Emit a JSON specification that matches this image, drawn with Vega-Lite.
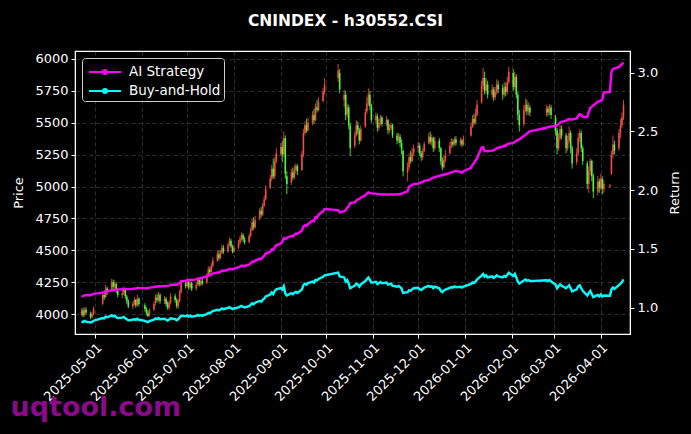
{
"$schema": "https://vega.github.io/schema/vega-lite/v6.json",
"width": 555, "height": 283,
"autosize": {"type": "none"},
"padding": {"left": 75, "top": 51, "right": 61, "bottom": 100},
"background": "#000000",
"title": {"text": "CNINDEX - h30552.CSI", "color": "#ffffff", "fontSize": 15.5, "fontWeight": "bold", "font": "DejaVu Sans", "anchor": "middle", "offset": 22, "dx": -7},
"config": {
 "view": {"stroke": "#ffffff", "strokeWidth": 1.2},
 "font": "DejaVu Sans",
 "axis": {"labelColor": "#ffffff", "titleColor": "#ffffff", "tickColor": "#ffffff", "domainColor": "#ffffff", "labelFont": "DejaVu Sans", "titleFont": "DejaVu Sans", "labelFontSize": 13, "titleFontSize": 13, "titleFontWeight": "normal", "gridColor": "#808080", "gridDash": [4, 3], "gridOpacity": 0.45, "gridWidth": 0.8, "tickSize": 4, "labelPadding": 3}
},
"datasets": {"k": [
{"d":"2025-04-22","o":4000,"h":4045,"l":3985,"c":4020,"ai":1.095,"bh":0.884},
{"d":"2025-04-23","o":4030,"h":4050,"l":3975,"c":3990,"ai":1.098,"bh":0.877},
{"d":"2025-04-24","o":3995,"h":4050,"l":3980,"c":4035,"ai":1.105,"bh":0.887},
{"d":"2025-04-25","o":4035,"h":4055,"l":3995,"c":4010,"ai":1.108,"bh":0.881},
{"d":"2025-04-28","o":4005,"h":4020,"l":3960,"c":3975,"ai":1.105,"bh":0.874},
{"d":"2025-04-29","o":3980,"h":4015,"l":3965,"c":4000,"ai":1.110,"bh":0.879},
{"d":"2025-04-30","o":4000,"h":4060,"l":3990,"c":4045,"ai":1.118,"bh":0.889},
{"d":"2025-05-06","o":4080,"h":4170,"l":4070,"c":4150,"ai":1.128,"bh":0.912},
{"d":"2025-05-07","o":4150,"h":4185,"l":4110,"c":4130,"ai":1.130,"bh":0.908},
{"d":"2025-05-08","o":4135,"h":4230,"l":4125,"c":4200,"ai":1.140,"bh":0.923},
{"d":"2025-05-09","o":4200,"h":4215,"l":4150,"c":4175,"ai":1.138,"bh":0.918},
{"d":"2025-05-12","o":4190,"h":4275,"l":4180,"c":4250,"ai":1.150,"bh":0.934},
{"d":"2025-05-13","o":4250,"h":4270,"l":4195,"c":4215,"ai":1.147,"bh":0.926},
{"d":"2025-05-14","o":4215,"h":4265,"l":4200,"c":4240,"ai":1.152,"bh":0.932},
{"d":"2025-05-15","o":4235,"h":4250,"l":4165,"c":4180,"ai":1.150,"bh":0.919},
{"d":"2025-05-16","o":4180,"h":4200,"l":4130,"c":4150,"ai":1.155,"bh":0.912},
{"d":"2025-05-19","o":4150,"h":4190,"l":4125,"c":4165,"ai":1.158,"bh":0.915},
{"d":"2025-05-20","o":4170,"h":4210,"l":4150,"c":4190,"ai":1.162,"bh":0.921},
{"d":"2025-05-21","o":4190,"h":4200,"l":4120,"c":4140,"ai":1.160,"bh":0.910},
{"d":"2025-05-22","o":4135,"h":4150,"l":4080,"c":4100,"ai":1.158,"bh":0.901},
{"d":"2025-05-23","o":4100,"h":4115,"l":4045,"c":4060,"ai":1.157,"bh":0.892},
{"d":"2025-05-26","o":4060,"h":4100,"l":4040,"c":4080,"ai":1.160,"bh":0.897},
{"d":"2025-05-27","o":4080,"h":4135,"l":4065,"c":4110,"ai":1.163,"bh":0.903},
{"d":"2025-05-28","o":4110,"h":4120,"l":4050,"c":4070,"ai":1.162,"bh":0.895},
{"d":"2025-05-29","o":4075,"h":4150,"l":4060,"c":4120,"ai":1.170,"bh":0.905},
{"d":"2025-05-30","o":4120,"h":4130,"l":4060,"c":4080,"ai":1.168,"bh":0.897},
{"d":"2025-06-03","o":4070,"h":4085,"l":4020,"c":4040,"ai":1.166,"bh":0.888},
{"d":"2025-06-04","o":4040,"h":4055,"l":3990,"c":4010,"ai":1.165,"bh":0.881},
{"d":"2025-06-05","o":4010,"h":4030,"l":3975,"c":3985,"ai":1.165,"bh":0.876},
{"d":"2025-06-06","o":3990,"h":4045,"l":3980,"c":4030,"ai":1.170,"bh":0.886},
{"d":"2025-06-09","o":4035,"h":4100,"l":4025,"c":4080,"ai":1.175,"bh":0.897},
{"d":"2025-06-10","o":4085,"h":4150,"l":4070,"c":4130,"ai":1.180,"bh":0.908},
{"d":"2025-06-11","o":4130,"h":4160,"l":4090,"c":4110,"ai":1.178,"bh":0.903},
{"d":"2025-06-12","o":4110,"h":4175,"l":4095,"c":4150,"ai":1.183,"bh":0.912},
{"d":"2025-06-13","o":4150,"h":4165,"l":4080,"c":4100,"ai":1.182,"bh":0.901},
{"d":"2025-06-16","o":4100,"h":4140,"l":4080,"c":4120,"ai":1.185,"bh":0.905},
{"d":"2025-06-17","o":4120,"h":4135,"l":4060,"c":4080,"ai":1.184,"bh":0.897},
{"d":"2025-06-18","o":4085,"h":4100,"l":4035,"c":4050,"ai":1.183,"bh":0.890},
{"d":"2025-06-19","o":4050,"h":4105,"l":4030,"c":4090,"ai":1.188,"bh":0.899},
{"d":"2025-06-20","o":4090,"h":4165,"l":4075,"c":4140,"ai":1.195,"bh":0.910},
{"d":"2025-06-23","o":4140,"h":4160,"l":4090,"c":4110,"ai":1.196,"bh":0.903},
{"d":"2025-06-24","o":4110,"h":4125,"l":4045,"c":4065,"ai":1.195,"bh":0.893},
{"d":"2025-06-25","o":4060,"h":4120,"l":4040,"c":4100,"ai":1.200,"bh":0.901},
{"d":"2025-06-26","o":4100,"h":4190,"l":4090,"c":4170,"ai":1.210,"bh":0.916},
{"d":"2025-06-27","o":4170,"h":4265,"l":4160,"c":4240,"ai":1.225,"bh":0.932},
{"d":"2025-06-30","o":4240,"h":4270,"l":4200,"c":4220,"ai":1.228,"bh":0.927},
{"d":"2025-07-01","o":4220,"h":4275,"l":4205,"c":4250,"ai":1.235,"bh":0.934},
{"d":"2025-07-02","o":4250,"h":4260,"l":4190,"c":4210,"ai":1.233,"bh":0.925},
{"d":"2025-07-03","o":4210,"h":4265,"l":4195,"c":4240,"ai":1.238,"bh":0.932},
{"d":"2025-07-04","o":4245,"h":4255,"l":4180,"c":4200,"ai":1.236,"bh":0.923},
{"d":"2025-07-07","o":4200,"h":4250,"l":4185,"c":4230,"ai":1.240,"bh":0.930},
{"d":"2025-07-08","o":4230,"h":4290,"l":4220,"c":4270,"ai":1.248,"bh":0.938},
{"d":"2025-07-09","o":4270,"h":4285,"l":4215,"c":4235,"ai":1.246,"bh":0.931},
{"d":"2025-07-10","o":4235,"h":4280,"l":4220,"c":4260,"ai":1.252,"bh":0.936},
{"d":"2025-07-11","o":4260,"h":4285,"l":4225,"c":4240,"ai":1.255,"bh":0.932},
{"d":"2025-07-14","o":4245,"h":4320,"l":4235,"c":4300,"ai":1.265,"bh":0.945},
{"d":"2025-07-15","o":4300,"h":4375,"l":4290,"c":4350,"ai":1.275,"bh":0.956},
{"d":"2025-07-16","o":4350,"h":4370,"l":4310,"c":4330,"ai":1.273,"bh":0.952},
{"d":"2025-07-17","o":4330,"h":4400,"l":4320,"c":4380,"ai":1.283,"bh":0.963},
{"d":"2025-07-18","o":4380,"h":4445,"l":4365,"c":4420,"ai":1.290,"bh":0.971},
{"d":"2025-07-21","o":4420,"h":4495,"l":4410,"c":4470,"ai":1.300,"bh":0.982},
{"d":"2025-07-22","o":4470,"h":4500,"l":4420,"c":4440,"ai":1.298,"bh":0.976},
{"d":"2025-07-23","o":4440,"h":4505,"l":4430,"c":4480,"ai":1.305,"bh":0.985},
{"d":"2025-07-24","o":4480,"h":4545,"l":4470,"c":4520,"ai":1.315,"bh":0.993},
{"d":"2025-07-25","o":4520,"h":4540,"l":4470,"c":4490,"ai":1.312,"bh":0.987},
{"d":"2025-07-28","o":4490,"h":4560,"l":4480,"c":4540,"ai":1.322,"bh":0.998},
{"d":"2025-07-29","o":4540,"h":4600,"l":4530,"c":4575,"ai":1.330,"bh":1.005},
{"d":"2025-07-30","o":4575,"h":4590,"l":4515,"c":4530,"ai":1.328,"bh":0.996},
{"d":"2025-07-31","o":4530,"h":4545,"l":4475,"c":4490,"ai":1.325,"bh":0.987},
{"d":"2025-08-01","o":4490,"h":4540,"l":4480,"c":4520,"ai":1.332,"bh":0.993},
{"d":"2025-08-04","o":4520,"h":4580,"l":4510,"c":4560,"ai":1.342,"bh":1.002},
{"d":"2025-08-05","o":4560,"h":4615,"l":4545,"c":4590,"ai":1.350,"bh":1.009},
{"d":"2025-08-06","o":4590,"h":4640,"l":4575,"c":4620,"ai":1.358,"bh":1.015},
{"d":"2025-08-07","o":4620,"h":4635,"l":4565,"c":4585,"ai":1.355,"bh":1.008},
{"d":"2025-08-08","o":4585,"h":4605,"l":4545,"c":4560,"ai":1.355,"bh":1.002},
{"d":"2025-08-11","o":4565,"h":4630,"l":4555,"c":4610,"ai":1.365,"bh":1.013},
{"d":"2025-08-12","o":4610,"h":4680,"l":4600,"c":4660,"ai":1.378,"bh":1.024},
{"d":"2025-08-13","o":4660,"h":4745,"l":4650,"c":4720,"ai":1.392,"bh":1.037},
{"d":"2025-08-14","o":4720,"h":4760,"l":4660,"c":4680,"ai":1.388,"bh":1.029},
{"d":"2025-08-15","o":4680,"h":4770,"l":4670,"c":4740,"ai":1.400,"bh":1.042},
{"d":"2025-08-18","o":4750,"h":4830,"l":4735,"c":4810,"ai":1.415,"bh":1.057},
{"d":"2025-08-19","o":4810,"h":4840,"l":4760,"c":4780,"ai":1.412,"bh":1.051},
{"d":"2025-08-20","o":4780,"h":4870,"l":4770,"c":4850,"ai":1.428,"bh":1.066},
{"d":"2025-08-21","o":4850,"h":4930,"l":4840,"c":4900,"ai":1.440,"bh":1.077},
{"d":"2025-08-22","o":4900,"h":5010,"l":4890,"c":4980,"ai":1.460,"bh":1.095},
{"d":"2025-08-25","o":4990,"h":5090,"l":4980,"c":5060,"ai":1.475,"bh":1.112},
{"d":"2025-08-26","o":5060,"h":5170,"l":5040,"c":5140,"ai":1.495,"bh":1.130},
{"d":"2025-08-27","o":5140,"h":5220,"l":5060,"c":5080,"ai":1.490,"bh":1.116},
{"d":"2025-08-28","o":5080,"h":5230,"l":5060,"c":5200,"ai":1.515,"bh":1.143},
{"d":"2025-08-29","o":5200,"h":5300,"l":5180,"c":5260,"ai":1.530,"bh":1.156},
{"d":"2025-09-01","o":5260,"h":5340,"l":5240,"c":5310,"ai":1.545,"bh":1.167},
{"d":"2025-09-02","o":5310,"h":5360,"l":5190,"c":5250,"ai":1.560,"bh":1.154},
{"d":"2025-09-03","o":5250,"h":5430,"l":5230,"c":5380,"ai":1.590,"bh":1.182},
{"d":"2025-09-04","o":5380,"h":5400,"l":5060,"c":5100,"ai":1.585,"bh":1.121},
{"d":"2025-09-05","o":5080,"h":5120,"l":4940,"c":5020,"ai":1.595,"bh":1.103},
{"d":"2025-09-08","o":5030,"h":5140,"l":5010,"c":5110,"ai":1.610,"bh":1.123},
{"d":"2025-09-09","o":5110,"h":5150,"l":5050,"c":5070,"ai":1.605,"bh":1.114},
{"d":"2025-09-10","o":5070,"h":5170,"l":5060,"c":5130,"ai":1.620,"bh":1.127},
{"d":"2025-09-11","o":5130,"h":5180,"l":5100,"c":5160,"ai":1.630,"bh":1.134},
{"d":"2025-09-12","o":5160,"h":5175,"l":5090,"c":5120,"ai":1.628,"bh":1.125},
{"d":"2025-09-15","o":5130,"h":5280,"l":5120,"c":5250,"ai":1.655,"bh":1.154},
{"d":"2025-09-16","o":5250,"h":5450,"l":5230,"c":5420,"ai":1.690,"bh":1.191},
{"d":"2025-09-17","o":5420,"h":5510,"l":5400,"c":5480,"ai":1.700,"bh":1.204},
{"d":"2025-09-18","o":5480,"h":5530,"l":5420,"c":5440,"ai":1.695,"bh":1.196},
{"d":"2025-09-19","o":5440,"h":5540,"l":5430,"c":5500,"ai":1.710,"bh":1.209},
{"d":"2025-09-22","o":5500,"h":5590,"l":5480,"c":5560,"ai":1.740,"bh":1.222},
{"d":"2025-09-23","o":5560,"h":5610,"l":5490,"c":5520,"ai":1.735,"bh":1.213},
{"d":"2025-09-24","o":5520,"h":5650,"l":5510,"c":5620,"ai":1.770,"bh":1.235},
{"d":"2025-09-25","o":5620,"h":5680,"l":5580,"c":5600,"ai":1.765,"bh":1.231},
{"d":"2025-09-26","o":5600,"h":5700,"l":5590,"c":5660,"ai":1.790,"bh":1.244},
{"d":"2025-09-29","o":5670,"h":5770,"l":5660,"c":5740,"ai":1.820,"bh":1.262},
{"d":"2025-09-30","o":5740,"h":5850,"l":5720,"c":5800,"ai":1.840,"bh":1.275},
{"d":"2025-10-09","o":5850,"h":5960,"l":5820,"c":5910,"ai":1.830,"bh":1.299},
{"d":"2025-10-10","o":5890,"h":5920,"l":5730,"c":5760,"ai":1.810,"bh":1.266},
{"d":"2025-10-13","o":5680,"h":5760,"l":5620,"c":5720,"ai":1.820,"bh":1.257},
{"d":"2025-10-14","o":5720,"h":5750,"l":5520,"c":5560,"ai":1.830,"bh":1.222},
{"d":"2025-10-15","o":5570,"h":5650,"l":5540,"c":5620,"ai":1.850,"bh":1.235},
{"d":"2025-10-16","o":5620,"h":5640,"l":5450,"c":5480,"ai":1.860,"bh":1.204},
{"d":"2025-10-17","o":5480,"h":5500,"l":5240,"c":5300,"ai":1.890,"bh":1.165},
{"d":"2025-10-20","o":5320,"h":5430,"l":5300,"c":5400,"ai":1.895,"bh":1.187},
{"d":"2025-10-21","o":5400,"h":5520,"l":5390,"c":5480,"ai":1.910,"bh":1.204},
{"d":"2025-10-22","o":5480,"h":5510,"l":5410,"c":5440,"ai":1.920,"bh":1.196},
{"d":"2025-10-23","o":5440,"h":5460,"l":5330,"c":5360,"ai":1.925,"bh":1.178},
{"d":"2025-10-24","o":5360,"h":5480,"l":5350,"c":5450,"ai":1.935,"bh":1.198},
{"d":"2025-10-27","o":5470,"h":5610,"l":5460,"c":5580,"ai":1.955,"bh":1.226},
{"d":"2025-10-28","o":5590,"h":5700,"l":5570,"c":5650,"ai":1.970,"bh":1.242},
{"d":"2025-10-29","o":5650,"h":5770,"l":5630,"c":5720,"ai":1.980,"bh":1.257},
{"d":"2025-10-30","o":5720,"h":5750,"l":5600,"c":5630,"ai":1.975,"bh":1.237},
{"d":"2025-10-31","o":5630,"h":5650,"l":5500,"c":5520,"ai":1.972,"bh":1.213},
{"d":"2025-11-03","o":5520,"h":5580,"l":5490,"c":5550,"ai":1.970,"bh":1.220},
{"d":"2025-11-04","o":5550,"h":5570,"l":5430,"c":5460,"ai":1.968,"bh":1.200},
{"d":"2025-11-05","o":5460,"h":5530,"l":5440,"c":5500,"ai":1.965,"bh":1.209},
{"d":"2025-11-06","o":5500,"h":5560,"l":5480,"c":5540,"ai":1.965,"bh":1.218},
{"d":"2025-11-07","o":5540,"h":5555,"l":5470,"c":5490,"ai":1.962,"bh":1.207},
{"d":"2025-11-10","o":5490,"h":5550,"l":5470,"c":5520,"ai":1.963,"bh":1.213},
{"d":"2025-11-11","o":5520,"h":5530,"l":5410,"c":5440,"ai":1.960,"bh":1.196},
{"d":"2025-11-12","o":5440,"h":5490,"l":5420,"c":5460,"ai":1.962,"bh":1.200},
{"d":"2025-11-13","o":5460,"h":5500,"l":5440,"c":5480,"ai":1.965,"bh":1.204},
{"d":"2025-11-14","o":5480,"h":5490,"l":5380,"c":5400,"ai":1.963,"bh":1.187},
{"d":"2025-11-17","o":5400,"h":5420,"l":5330,"c":5360,"ai":1.962,"bh":1.178},
{"d":"2025-11-18","o":5360,"h":5420,"l":5340,"c":5390,"ai":1.965,"bh":1.185},
{"d":"2025-11-19","o":5390,"h":5410,"l":5310,"c":5340,"ai":1.966,"bh":1.174},
{"d":"2025-11-20","o":5340,"h":5370,"l":5250,"c":5290,"ai":1.968,"bh":1.163},
{"d":"2025-11-21","o":5280,"h":5290,"l":5080,"c":5120,"ai":1.975,"bh":1.125},
{"d":"2025-11-24","o":5110,"h":5190,"l":5040,"c":5150,"ai":1.990,"bh":1.132},
{"d":"2025-11-25","o":5150,"h":5260,"l":5130,"c":5230,"ai":2.030,"bh":1.149},
{"d":"2025-11-26","o":5230,"h":5280,"l":5180,"c":5200,"ai":2.035,"bh":1.143},
{"d":"2025-11-27","o":5200,"h":5300,"l":5190,"c":5260,"ai":2.045,"bh":1.156},
{"d":"2025-11-28","o":5260,"h":5330,"l":5240,"c":5300,"ai":2.050,"bh":1.165},
{"d":"2025-12-01","o":5300,"h":5350,"l":5270,"c":5320,"ai":2.055,"bh":1.169},
{"d":"2025-12-02","o":5320,"h":5340,"l":5240,"c":5260,"ai":2.060,"bh":1.156},
{"d":"2025-12-03","o":5260,"h":5280,"l":5200,"c":5230,"ai":2.065,"bh":1.149},
{"d":"2025-12-04","o":5230,"h":5300,"l":5210,"c":5280,"ai":2.070,"bh":1.160},
{"d":"2025-12-05","o":5280,"h":5350,"l":5270,"c":5330,"ai":2.078,"bh":1.171},
{"d":"2025-12-08","o":5340,"h":5420,"l":5330,"c":5390,"ai":2.085,"bh":1.185},
{"d":"2025-12-09","o":5390,"h":5430,"l":5330,"c":5350,"ai":2.090,"bh":1.176},
{"d":"2025-12-10","o":5350,"h":5410,"l":5320,"c":5380,"ai":2.100,"bh":1.182},
{"d":"2025-12-11","o":5380,"h":5390,"l":5270,"c":5300,"ai":2.105,"bh":1.165},
{"d":"2025-12-12","o":5300,"h":5390,"l":5280,"c":5360,"ai":2.110,"bh":1.178},
{"d":"2025-12-15","o":5360,"h":5380,"l":5270,"c":5300,"ai":2.120,"bh":1.165},
{"d":"2025-12-16","o":5300,"h":5310,"l":5170,"c":5200,"ai":2.125,"bh":1.143},
{"d":"2025-12-17","o":5200,"h":5230,"l":5125,"c":5150,"ai":2.130,"bh":1.132},
{"d":"2025-12-18","o":5150,"h":5240,"l":5140,"c":5210,"ai":2.128,"bh":1.145},
{"d":"2025-12-19","o":5210,"h":5290,"l":5190,"c":5250,"ai":2.135,"bh":1.154},
{"d":"2025-12-22","o":5260,"h":5350,"l":5250,"c":5320,"ai":2.145,"bh":1.169},
{"d":"2025-12-23","o":5320,"h":5380,"l":5300,"c":5350,"ai":2.150,"bh":1.176},
{"d":"2025-12-24","o":5350,"h":5370,"l":5310,"c":5330,"ai":2.155,"bh":1.171},
{"d":"2025-12-25","o":5330,"h":5390,"l":5320,"c":5370,"ai":2.160,"bh":1.180},
{"d":"2025-12-26","o":5370,"h":5395,"l":5320,"c":5340,"ai":2.163,"bh":1.174},
{"d":"2025-12-29","o":5340,"h":5385,"l":5320,"c":5360,"ai":2.155,"bh":1.178},
{"d":"2025-12-30","o":5360,"h":5375,"l":5310,"c":5330,"ai":2.148,"bh":1.171},
{"d":"2025-12-31","o":5330,"h":5400,"l":5320,"c":5370,"ai":2.160,"bh":1.180},
{"d":"2026-01-05","o":5400,"h":5500,"l":5390,"c":5470,"ai":2.190,"bh":1.202},
{"d":"2026-01-06","o":5470,"h":5560,"l":5460,"c":5530,"ai":2.215,"bh":1.215},
{"d":"2026-01-07","o":5530,"h":5570,"l":5480,"c":5500,"ai":2.230,"bh":1.209},
{"d":"2026-01-08","o":5500,"h":5610,"l":5490,"c":5560,"ai":2.250,"bh":1.222},
{"d":"2026-01-09","o":5560,"h":5680,"l":5550,"c":5640,"ai":2.270,"bh":1.240},
{"d":"2026-01-12","o":5660,"h":5830,"l":5650,"c":5790,"ai":2.360,"bh":1.273},
{"d":"2026-01-13","o":5790,"h":5930,"l":5760,"c":5850,"ai":2.365,"bh":1.286},
{"d":"2026-01-14","o":5850,"h":5900,"l":5720,"c":5750,"ai":2.330,"bh":1.264},
{"d":"2026-01-15","o":5750,"h":5850,"l":5730,"c":5800,"ai":2.335,"bh":1.275},
{"d":"2026-01-16","o":5800,"h":5830,"l":5690,"c":5720,"ai":2.330,"bh":1.257},
{"d":"2026-01-19","o":5720,"h":5800,"l":5690,"c":5760,"ai":2.335,"bh":1.266},
{"d":"2026-01-20","o":5760,"h":5780,"l":5670,"c":5700,"ai":2.340,"bh":1.253},
{"d":"2026-01-21","o":5700,"h":5780,"l":5680,"c":5740,"ai":2.345,"bh":1.262},
{"d":"2026-01-22","o":5740,"h":5840,"l":5720,"c":5800,"ai":2.355,"bh":1.275},
{"d":"2026-01-23","o":5800,"h":5830,"l":5730,"c":5760,"ai":2.360,"bh":1.266},
{"d":"2026-01-26","o":5770,"h":5800,"l":5680,"c":5720,"ai":2.370,"bh":1.257},
{"d":"2026-01-27","o":5720,"h":5820,"l":5700,"c":5780,"ai":2.380,"bh":1.270},
{"d":"2026-01-28","o":5780,"h":5810,"l":5710,"c":5740,"ai":2.375,"bh":1.262},
{"d":"2026-01-29","o":5740,"h":5860,"l":5720,"c":5820,"ai":2.390,"bh":1.279},
{"d":"2026-01-30","o":5820,"h":5940,"l":5800,"c":5900,"ai":2.395,"bh":1.297},
{"d":"2026-02-02","o":5890,"h":5920,"l":5750,"c":5780,"ai":2.400,"bh":1.270},
{"d":"2026-02-03","o":5780,"h":5900,"l":5760,"c":5860,"ai":2.410,"bh":1.288},
{"d":"2026-02-04","o":5860,"h":5880,"l":5690,"c":5720,"ai":2.420,"bh":1.257},
{"d":"2026-02-05","o":5720,"h":5740,"l":5520,"c":5560,"ai":2.425,"bh":1.222},
{"d":"2026-02-06","o":5560,"h":5600,"l":5430,"c":5480,"ai":2.430,"bh":1.204},
{"d":"2026-02-09","o":5490,"h":5640,"l":5470,"c":5600,"ai":2.460,"bh":1.231},
{"d":"2026-02-10","o":5600,"h":5690,"l":5580,"c":5640,"ai":2.470,"bh":1.240},
{"d":"2026-02-11","o":5640,"h":5680,"l":5560,"c":5590,"ai":2.480,"bh":1.229},
{"d":"2026-02-12","o":5590,"h":5660,"l":5560,"c":5620,"ai":2.490,"bh":1.235},
{"d":"2026-02-13","o":5620,"h":5640,"l":5550,"c":5580,"ai":2.500,"bh":1.226},
{"d":"2026-02-24","o":5580,"h":5640,"l":5550,"c":5610,"ai":2.530,"bh":1.233},
{"d":"2026-02-25","o":5610,"h":5630,"l":5550,"c":5580,"ai":2.535,"bh":1.226},
{"d":"2026-02-26","o":5580,"h":5645,"l":5560,"c":5620,"ai":2.540,"bh":1.235},
{"d":"2026-02-27","o":5620,"h":5640,"l":5530,"c":5560,"ai":2.540,"bh":1.222},
{"d":"2026-03-02","o":5540,"h":5560,"l":5400,"c":5440,"ai":2.545,"bh":1.196},
{"d":"2026-03-03","o":5440,"h":5460,"l":5250,"c":5300,"ai":2.550,"bh":1.165},
{"d":"2026-03-04","o":5300,"h":5420,"l":5280,"c":5380,"ai":2.560,"bh":1.182},
{"d":"2026-03-05","o":5380,"h":5480,"l":5360,"c":5450,"ai":2.575,"bh":1.198},
{"d":"2026-03-06","o":5450,"h":5480,"l":5370,"c":5400,"ai":2.580,"bh":1.187},
{"d":"2026-03-09","o":5400,"h":5420,"l":5260,"c":5300,"ai":2.590,"bh":1.165},
{"d":"2026-03-10","o":5300,"h":5400,"l":5280,"c":5360,"ai":2.600,"bh":1.178},
{"d":"2026-03-11","o":5360,"h":5470,"l":5340,"c":5420,"ai":2.605,"bh":1.191},
{"d":"2026-03-12","o":5420,"h":5440,"l":5260,"c":5300,"ai":2.600,"bh":1.165},
{"d":"2026-03-13","o":5300,"h":5320,"l":5140,"c":5180,"ai":2.600,"bh":1.138},
{"d":"2026-03-16","o":5190,"h":5300,"l":5170,"c":5260,"ai":2.610,"bh":1.156},
{"d":"2026-03-17","o":5260,"h":5420,"l":5240,"c":5380,"ai":2.630,"bh":1.182},
{"d":"2026-03-18","o":5380,"h":5450,"l":5350,"c":5420,"ai":2.645,"bh":1.191},
{"d":"2026-03-19","o":5420,"h":5440,"l":5270,"c":5300,"ai":2.640,"bh":1.165},
{"d":"2026-03-20","o":5300,"h":5320,"l":5170,"c":5200,"ai":2.625,"bh":1.143},
{"d":"2026-03-23","o":5180,"h":5200,"l":4980,"c":5020,"ai":2.620,"bh":1.103},
{"d":"2026-03-24","o":5020,"h":5160,"l":4950,"c":5120,"ai":2.660,"bh":1.125},
{"d":"2026-03-25","o":5120,"h":5220,"l":5090,"c":5200,"ai":2.700,"bh":1.143},
{"d":"2026-03-26","o":5200,"h":5210,"l":5040,"c":5080,"ai":2.710,"bh":1.116},
{"d":"2026-03-27","o":5080,"h":5100,"l":4910,"c":4960,"ai":2.720,"bh":1.090},
{"d":"2026-03-30","o":4960,"h":5080,"l":4930,"c":5040,"ai":2.750,"bh":1.108},
{"d":"2026-03-31","o":5040,"h":5060,"l":4950,"c":4990,"ai":2.755,"bh":1.097},
{"d":"2026-04-01","o":4990,"h":5100,"l":4970,"c":5060,"ai":2.760,"bh":1.112},
{"d":"2026-04-02","o":5060,"h":5080,"l":4940,"c":4980,"ai":2.770,"bh":1.095},
{"d":"2026-04-03","o":4980,"h":5050,"l":4950,"c":5020,"ai":2.830,"bh":1.103},
{"d":"2026-04-07","o":5000,"h":5020,"l":4990,"c":5010,"ai":2.835,"bh":1.101},
{"d":"2026-04-08","o":5100,"h":5280,"l":5090,"c":5250,"ai":3.000,"bh":1.154},
{"d":"2026-04-09","o":5250,"h":5400,"l":5220,"c":5330,"ai":3.030,"bh":1.171},
{"d":"2026-04-10","o":5330,"h":5360,"l":5250,"c":5280,"ai":3.035,"bh":1.160},
{"d":"2026-04-13","o":5300,"h":5450,"l":5280,"c":5420,"ai":3.045,"bh":1.191},
{"d":"2026-04-14","o":5420,"h":5530,"l":5380,"c":5480,"ai":3.060,"bh":1.204},
{"d":"2026-04-15","o":5480,"h":5580,"l":5460,"c":5540,"ai":3.070,"bh":1.218},
{"d":"2026-04-16","o":5540,"h":5680,"l":5520,"c":5640,"ai":3.085,"bh":1.240}
]},
"data": {"name": "k"},
"encoding": {
 "x": {"field": "d", "type": "temporal",
  "scale": {"domain": ["2025-04-21", "2026-04-17"]},
  "axis": {"tickCount": {"interval": "month", "step": 1}, "format": "%Y-%m-%d", "labelAngle": -45, "labelAlign": "right", "labelBaseline": "top", "grid": true, "labelOverlap": false,
   "title": "uqtool.com", "titleColor": "#8b0a8b", "titleFontSize": 27, "titleFontWeight": "bold", "titleAnchor": "start", "titleAlign": "left", "titleBaseline": "alphabetic", "titleX": -65, "titleY": 81}
 }
},
"layer": [
 {
  "encoding": {
   "y": {"field": "l", "type": "quantitative",
    "scale": {"domain": [3844, 6062], "nice": false, "zero": false},
    "axis": {"title": "Price", "values": [4000, 4250, 4500, 4750, 5000, 5250, 5500, 5750, 6000], "format": "d", "grid": true, "titlePadding": 9}},
   "color": {"condition": {"test": "datum.c >= datum.o", "value": "#ff5040"}, "value": "#50ff40"}
  },
  "layer": [
   {"mark": {"type": "rule", "strokeWidth": 0.9, "opacity": 0.9}, "encoding": {"y2": {"field": "h"}}},
   {"mark": {"type": "bar", "size": 1.6, "opacity": 0.9}, "encoding": {"y": {"field": "o", "type": "quantitative"}, "y2": {"field": "c"}}}
  ]
 },
 {
  "transform": [{"fold": ["ai", "bh"], "as": ["s", "v"]}],
  "mark": {"type": "line", "strokeWidth": 2.4},
  "encoding": {
   "y": {"field": "v", "type": "quantitative",
    "scale": {"domain": [0.776, 3.183], "nice": false, "zero": false},
    "axis": {"orient": "right", "title": "Return", "values": [1.0, 1.5, 2.0, 2.5, 3.0], "format": ".1f", "grid": false, "titleAngle": 270, "titlePadding": 24}},
   "color": {"field": "s", "type": "nominal",
    "scale": {"domain": ["ai", "bh"], "range": ["#ff00ff", "#00ffff"]},
    "legend": {"orient": "top-left", "title": null, "offset": 7,
     "labelExpr": "datum.label == 'ai' ? 'AI Strategy' : 'Buy-and-Hold'",
     "labelColor": "#ffffff", "labelFontSize": 13.5, "labelFont": "DejaVu Sans",
     "fillColor": "#000000", "strokeColor": "#cccccc", "cornerRadius": 3, "padding": 3,
     "symbolType": "M-1.6,0H1.6M-0.2,0A0.2,0.2,0,1,1,0.2,0A0.2,0.2,0,1,1,-0.2,0Z",
     "symbolSize": 400, "symbolStrokeWidth": 2, "symbolOffset": 9, "labelOffset": 13, "rowPadding": 1,
     "encode": {"symbols": {"update": {"fill": {"scale": "color", "field": "value"}}}}}}
  }
 }
],
"resolve": {"scale": {"y": "independent"}}
}
